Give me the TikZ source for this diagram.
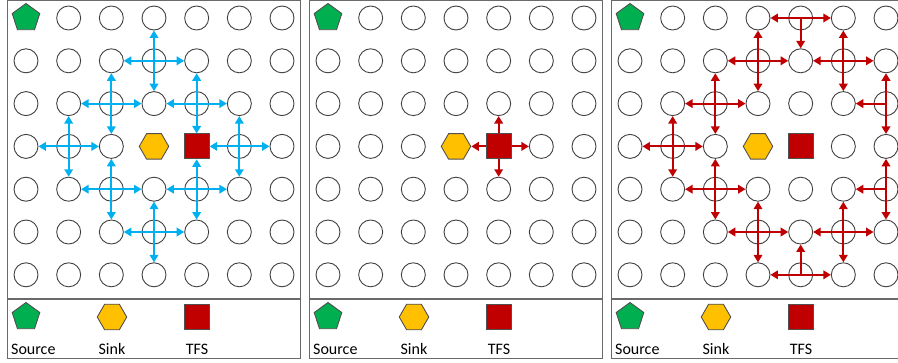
\documentclass[tikz,border=0pt]{standalone}
\usepackage{fontspec}
\setmainfont{Carlito}
\usetikzlibrary{shapes.geometric,arrows.meta}
\definecolor{cblue}{HTML}{00B0F0}
\definecolor{cred}{HTML}{C00000}
\definecolor{cgreen}{HTML}{00B050}
\definecolor{cyellow}{HTML}{FFC000}
\definecolor{cline}{HTML}{404040}
\definecolor{cedge}{HTML}{505050}
\definecolor{cframe}{HTML}{6A6A6A}
\newcommand\mygrid{%
 \foreach \c in {0,...,6}{\foreach \r in {0,...,6}{%
   \pgfmathsetmacro\px{26+42.667*\c}\pgfmathsetmacro\py{18+42.8*\r}%
   \def\sty{cell}%
   \ifnum\c=0 \ifnum\r=0 \def\sty{src}\fi\fi
   \ifnum\r=3 \ifnum\c=3 \def\sty{snk}\fi \ifnum\c=4 \def\sty{tfs}\fi\fi
   \node[\sty] (n-\c-\r) at (\px,\py) {};
 }}%
 \draw[frame] (7.5,0.6) rectangle (300.5,358.5);
 \draw[frame] (7.5,299) -- (300.5,299);
 \node[src] (ls) at (26,317) {};
 \node[snk] (lk) at (112,317) {};
 \node[tfs] (lt) at (197,317) {};
 \node[lbl,anchor=base west] (ts) at (11,354) {Source};
 \node[lbl,anchor=base] (tk) at (112,354) {Sink};
 \node[lbl,anchor=base] (tt) at (197,354) {TFS};
}
\newcommand\mycross[3]{%
 \pgfmathtruncatemacro\cl{#1-1}\pgfmathtruncatemacro\cr{#1+1}%
 \pgfmathtruncatemacro\ru{#2-1}\pgfmathtruncatemacro\rd{#2+1}%
 \draw[#3] (n-\cl-#2) -- (n-\cr-#2);
 \draw[#3] (n-#1-\ru) -- (n-#1-\rd);
}
\begin{document}
\begin{tikzpicture}[x=1pt,y=-1pt,
  cell/.style={circle,draw=cline,line width=0.9pt,minimum size=24pt,inner sep=0pt,fill=white},
  src/.style={regular polygon,regular polygon sides=5,minimum size=29pt,inner sep=0pt,fill=cgreen,draw=cedge,line width=0.9pt},
  snk/.style={regular polygon,regular polygon sides=6,minimum size=29.5pt,inner sep=0pt,fill=cyellow,draw=cedge,line width=0.9pt},
  tfs/.style={rectangle,minimum size=25pt,inner sep=0pt,fill=cred,draw=cedge,line width=0.9pt},
  frame/.style={draw=cframe,line width=1.1pt},
  lbl/.style={inner sep=0pt,font=\fontsize{16}{19}\selectfont},
  tip/.tip={Triangle[length=7.5pt,width=8.5pt]},
  bd/.style={cblue,line width=2pt,tip-tip},
  rd/.style={cred,line width=2pt,tip-tip},
  rs/.style={cred,line width=2pt,-tip}]
\path[use as bounding box,clip] (0,0) rectangle (898,362);
% panel 1
\begin{scope}[name prefix=a-]
 \mygrid
 \foreach \c/\r in {3/1,2/2,4/2,1/3,5/3,2/4,4/4,3/5}{\mycross{\c}{\r}{bd}}
\end{scope}
% panel 2
\begin{scope}[xshift=302pt,name prefix=b-]
 \mygrid
 \draw[rs] (n-4-3) -- (n-3-3);
 \draw[rs] (n-4-3) -- (n-5-3);
 \draw[rs] (n-4-3) -- (n-4-2);
 \draw[rs] (n-4-3) -- (n-4-4);
\end{scope}
% panel 3
\begin{scope}[xshift=604pt,name prefix=c-]
 \mygrid
 \foreach \c/\r in {3/1,5/1,2/2,1/3,2/4,3/5,5/5}{\mycross{\c}{\r}{rd}}
 \draw[rd] (n-3-0) -- (n-5-0);
 \draw[rs] (n-4-0.center) -- (n-4-1);
 \draw[rd] (n-6-1) -- (n-6-3);
 \draw[rs] (n-6-2.center) -- (n-5-2);
 \draw[rd] (n-6-3) -- (n-6-5);
 \draw[rs] (n-6-4.center) -- (n-5-4);
 \draw[rd] (n-3-6) -- (n-5-6);
 \draw[rs] (n-4-6.center) -- (n-4-5);
\end{scope}
\end{tikzpicture}
\end{document}
